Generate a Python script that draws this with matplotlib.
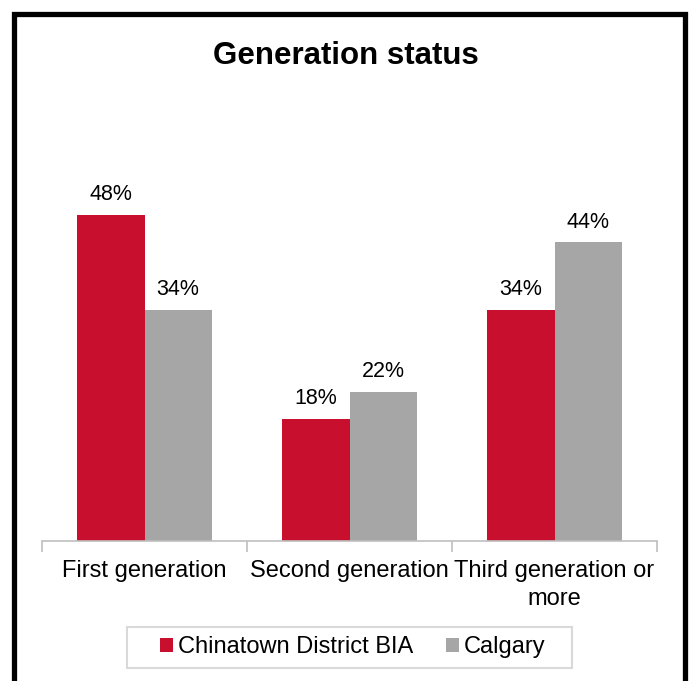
import matplotlib.pyplot as plt
from matplotlib.patches import Rectangle
import numpy as np

# Adatok
categories = ["First generation", "Second generation", "Third generation or\nmore"]
chinatown = [48, 18, 34]
calgary = [34, 22, 44]
series_names = ["Chinatown District BIA", "Calgary"]

plt.rcParams['font.family'] = ['Liberation Sans', 'DejaVu Sans']

RED = '#C8102E'
GRAY = '#A6A6A6'
W, H = 692, 681

fig = plt.figure(figsize=(6.92, 6.81), dpi=100)
ax = fig.add_axes([42 / W, 140 / H, 615 / W, 0.55])

x = np.arange(len(categories))
w = 0.327
b1 = ax.bar(x - w / 2, chinatown, w, color=RED, label=series_names[0])
b2 = ax.bar(x + w / 2, calgary, w, color=GRAY, label=series_names[1])

# Adatcimkek
for bars, vals in [(b1, chinatown), (b2, calgary)]:
    for rect, v in zip(bars, vals):
        ax.annotate(f"{v}%", (rect.get_x() + rect.get_width() / 2, rect.get_height()),
                    xytext=(0, 7), textcoords='offset points',
                    ha='center', va='bottom', fontsize=15.5, color='black')

ax.set_xlim(-0.5, 2.5)
ax.set_ylim(0, 0.55 * H / 6.79)

for s in ['top', 'right', 'left']:
    ax.spines[s].set_visible(False)
ax.spines['bottom'].set_color('#BFBFBF')
ax.spines['bottom'].set_linewidth(1.2)
ax.set_yticks([])

ax.set_xticks(x)
ax.set_xticklabels(categories, fontsize=17, linespacing=1.35)
ax.tick_params(axis='x', which='major', length=0, pad=14)
ax.set_xticks([-0.5, 0.5, 1.5, 2.5], minor=True)
ax.tick_params(axis='x', which='minor', length=8, color='#BFBFBF', width=1.2)

fig.text(0.5, 1 - 64 / H, "Generation status", ha='center', va='baseline',
         fontsize=22.5, fontweight='bold')

# Jelmagyarazat (kulon kerettel)
leg = fig.legend(loc='center', bbox_to_anchor=(353 / W, 34 / H), ncol=2,
                 fontsize=17, frameon=False,
                 handlelength=0.55, handleheight=0.55, handletextpad=0.2,
                 columnspacing=1.4, borderpad=0.0)
fig.patches.append(Rectangle((127 / W, 13 / H), 445 / W, 41 / H,
                             transform=fig.transFigure, fill=False,
                             edgecolor='#D9D9D9', linewidth=1.5))

# Keret
fig.patches.append(Rectangle((13.5 / W, -0.05), 671.5 / W, 1 - 13.5 / H + 0.05,
                             transform=fig.transFigure, fill=False,
                             edgecolor='black', linewidth=3.8))

fig.savefig("out.png", dpi=100)
